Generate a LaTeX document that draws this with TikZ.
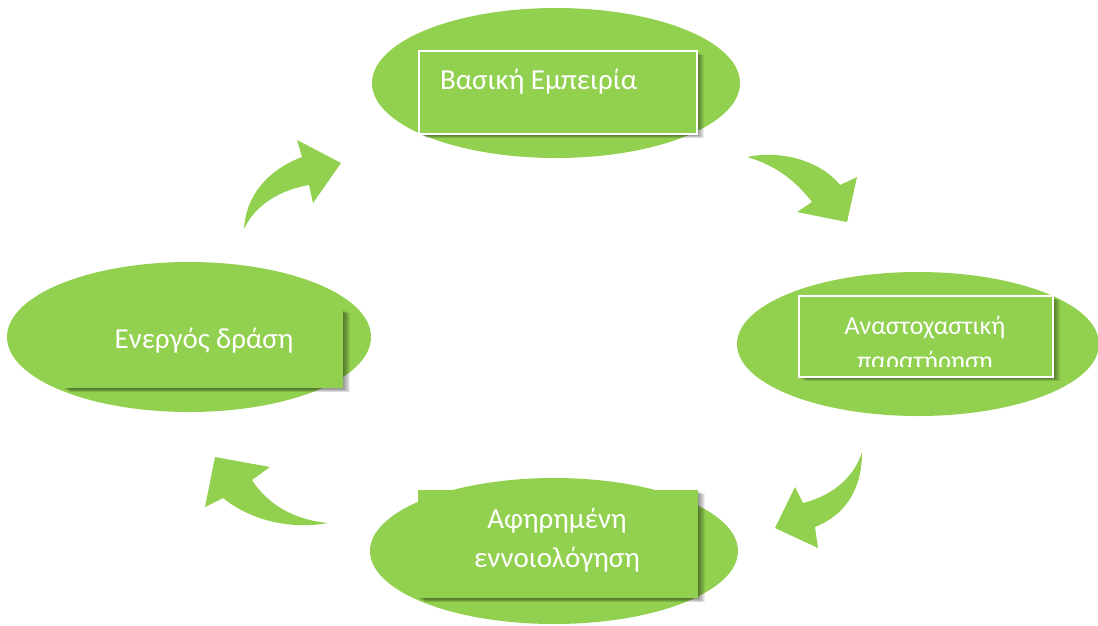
\documentclass[tikz,border=0pt]{standalone}
\usepackage{fontspec}
\setmainfont{Carlito}
\usetikzlibrary{shapes.geometric,shadows}
\definecolor{lg}{HTML}{92D050}
\tikzset{
  oval/.style={ellipse, fill=lg, draw=none, inner sep=0pt},
  sh/.style 2 args={general shadow={fill=black, opacity=0.07,
      shadow xshift=#1, shadow yshift=#2}},
  box/.style={rectangle, fill=lg, inner sep=0pt,
    sh={1pt}{-1pt}, sh={2pt}{-1.5pt}, sh={3pt}{-2pt}, sh={4pt}{-2.5pt},
    sh={5pt}{-3pt}, sh={6pt}{-3.5pt}, sh={7pt}{-4pt}},
  wbox/.style={box, draw=white, line width=2pt},
  lbl/.style={text=white, font=\fontsize{29}{39}\selectfont, inner sep=0pt},
  slbl/.style={lbl, font=\fontsize{26}{34}\selectfont},
  carrow/.style={fill=lg, draw=none}
}
\begin{document}
\begin{tikzpicture}[x=1pt,y=-1pt]
\useasboundingbox (0,0) rectangle (1098,625);
% ellipses
\node[oval, minimum width=368pt, minimum height=150pt] (e1) at (556,83) {};
\node[oval, minimum width=362pt, minimum height=144pt] (e2) at (918,344) {};
\node[oval, minimum width=364pt, minimum height=150pt] (e3) at (189,337) {};
\node[oval, minimum width=368pt, minimum height=146pt] (e4) at (554,551) {};
% boxes
\node[wbox, minimum width=278pt, minimum height=83pt] (b1) at (558,92.5) {};
\node[wbox, minimum width=254pt, minimum height=81pt] (b2) at (926,336.5) {};
\node[box, minimum width=280pt, minimum height=79pt] (b3) at (203,348.5) {};
\node[box, minimum width=280pt, minimum height=108pt] (b4) at (558,544) {};
% texts
\node[lbl, anchor=base west] (t1) at (440,89) {Βασική Εμπειρία};
\begin{scope}
  \clip (798,295) rectangle (1054,366);
  \node[slbl, anchor=base] (t2a) at (925,334) {Αναστοχαστική};
  \node[slbl, anchor=base] (t2b) at (925,369) {παρατήρηση};
\end{scope}
\node[lbl, anchor=base] (t3) at (204,348) {Ενεργός δράση};
\node[lbl, anchor=base] (t4a) at (557,528) {Αφηρημένη};
\node[lbl, anchor=base] (t4b) at (557,567) {εννοιολόγηση};
% curved arrows
\fill[carrow] (244,229) .. controls (246,195) and (268,170) .. (302,157)
  -- (297,140) -- (341,163) -- (313,203) -- (309,185)
  .. controls (280,190) and (255,205) .. (244,229) -- cycle;
\fill[carrow] (747,157) .. controls (780,150) and (820,160) .. (840,185)
  -- (857,177) -- (847,222) -- (797,212) -- (812,202)
  .. controls (795,180) and (775,165) .. (747,157) -- cycle;
\fill[carrow] (862,452) .. controls (862,490) and (845,515) .. (815,527)
  -- (818,548) -- (775,528) -- (795,487) -- (803,503)
  .. controls (835,495) and (855,475) .. (862,452) -- cycle;
\fill[carrow] (328,523) .. controls (295,520) and (268,505) .. (252,480)
  -- (270,467) -- (215,457) -- (205,507) -- (223,498)
  .. controls (250,520) and (290,530) .. (328,523) -- cycle;
\end{tikzpicture}
\end{document}
